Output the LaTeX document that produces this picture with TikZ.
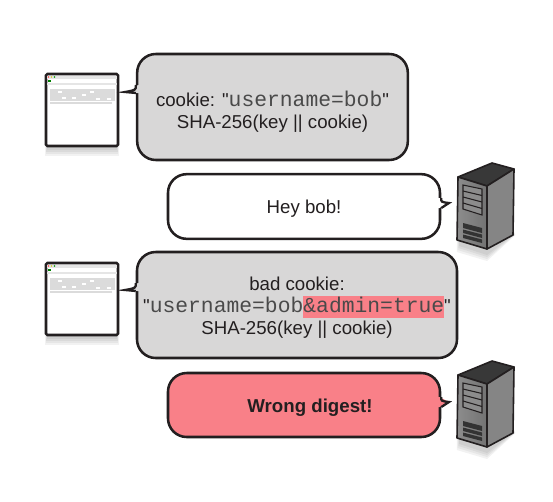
\documentclass[tikz,border=0pt]{standalone}
\usepackage{fontspec}
\setmainfont{Liberation Sans}[Ligatures=TeXOff]
\newfontfamily\codefont{Liberation Mono}
\definecolor{bubblegray}{HTML}{D8D7D7}
\definecolor{wrongred}{HTML}{F98088}
\definecolor{inkdark}{HTML}{231F20}
\definecolor{codegray}{HTML}{4A4A4A}
\newcommand{\code}[1]{{\fontsize{16}{17}\codefont\color{codegray}#1}}
\newcommand{\badpart}[1]{\smash{\fboxsep=0pt\colorbox{wrongred}{\rule[-4.5pt]{0pt}{16.5pt}\code{#1}}}}
\newcommand{\lift}[1]{\rule{0pt}{#1}}
\tikzset{
    bubble/.style={
        draw=inkdark, line width=1.9pt, rounded corners=14pt,
        align=center, text=inkdark, inner sep=0pt,
        font=\fontsize{14}{16.5}\selectfont
    },
    tailline/.style={draw=inkdark, line width=1.7pt, line join=miter},
    pics/browser/.style={code={
        \foreach \s in {8,6,4,2}
            \fill[black,opacity=.05] (-35-\s*.2,30) rectangle (35+\s*.2,38+\s);
        \node[draw=inkdark, line width=1.9pt, fill=white, inner sep=0pt,
            minimum width=54pt, minimum height=54pt, rounded corners=1pt] (-frame) at (0,0) {};
        \fill[black!10] (-35,-34) rectangle (35,-31);
        \fill[red!70] (-33.5,-33) circle (.9);
        \fill[yellow!80!black] (-30.5,-33) circle (.9);
        \fill[green!60!black] (-27.5,-33) circle (.9);
        \fill[green!50!black] (-34,-30) rectangle (-31,-28);
        \fill[black!10] (-35,-27) rectangle (35,-25);
        \fill[black!14] (-32,-21) rectangle (33,-9);
        \fill[black!14] (-32,-8) rectangle (30,-6);
        \foreach \wx/\wy in {-24/-19, -20/-13, -10/-13, 0/-16, 8/-19, 14/-12, 25/-12}
            \fill[white] (\wx,\wy) rectangle ++(3.5,1.5);
    }},
    pics/server/.style={code={
        \foreach \s in {8,6,4,2}
            \fill[black,opacity=.05] (3-\s*.4,70) -- (30,80) -- (56,66) -- (56+\s*.3,72)
                -- (30,90+\s) -- (3-\s*.4,81+\s) -- cycle;
        \draw[inkdark, line width=1.2pt, line join=round, fill=black!78!white]
            (1,14) -- (35,0) -- (57,6) -- (30,23) -- cycle;
        \draw[inkdark, line width=1.2pt, line join=round, fill=black!48!white]
            (30,23) -- (57,6) -- (56,72) -- (30,86) -- cycle;
        \draw[inkdark, line width=1.2pt, line join=round, left color=black!45, right color=black!55]
            (1,14) -- (30,23) -- (30,86) -- (0,77) -- cycle;
        \draw[inkdark, line width=.8pt, fill=black!45]
            (6,22) -- (25,26) -- (25,52) -- (6,46) -- cycle;
        \draw[inkdark, line width=.8pt] (6,28) -- (25,32.5) (6,34) -- (25,39) (6,40) -- (25,45.5);
        \fill[black!80] (6,60) -- (25,65) -- (25,70) -- (6,65) -- cycle;
        \fill[black!80] (6,66.5) -- (25,71.5) -- (25,75) -- (6,70) -- cycle;
        \fill[black!80] (6,71.5) -- (25,76.5) -- (25,80) -- (6,75) -- cycle;
    }},
}
\begin{document}
\begin{tikzpicture}[x=.75pt, y=-.75pt]
    \useasboundingbox (0,0) rectangle (553,501);
    % browsers
    \pic (browserA) at (82,110) {browser};
    \pic (browserB) at (82,299) {browser};
    % servers
    \pic (serverA) at (457,163) {server};
    \pic (serverB) at (457,361) {server};
    % bubbles
    \node[bubble, fill=bubblegray, minimum width=203pt, minimum height=79.5pt] (cookie) at (272.5,107)
        {\lift{19pt}cookie: "\code{username=bob}"\\SHA-256(key || cookie)};
    \node[bubble, fill=white, minimum width=204pt, minimum height=48.5pt] (hey) at (304,206.5)
        {\lift{14pt}Hey bob!};
    \node[bubble, fill=bubblegray, minimum width=240pt, minimum height=79.5pt] (badcookie) at (297,305)
        {\lift{14pt}bad cookie:\\"\code{username=bob}\badpart{\&admin=true}"\\SHA-256(key || cookie)};
    \node[bubble, fill=wrongred, minimum width=204pt, minimum height=48pt] (wrong) at (304,405)
        {\lift{14pt}\hspace*{9pt}\textbf{Wrong digest!}};
    % tails
    \coordinate (tipA) at (125,92);
    \coordinate (tipB) at (449,203);
    \coordinate (tipC) at (125,290);
    \coordinate (tipD) at (449,402);
    \fill[bubblegray] (137.5,85) .. controls (136,90) .. (tipA) -- (137.5,93) -- (139,93) -- (139,85) -- cycle;
    \draw[tailline] (cookie.west |- 0,85) .. controls (136,90) .. (tipA) -- (cookie.west |- 0,93);
    \fill[white] (439.5,198) -- (tipB) -- (439.5,208) -- (438,208) -- (438,198) -- cycle;
    \draw[tailline] (hey.east |- 0,198) .. controls (441,202) .. (tipB) -- (hey.east |- 0,208);
    \fill[bubblegray] (137.5,283) .. controls (136,288) .. (tipC) -- (137.5,291) -- (139,291) -- (139,283) -- cycle;
    \draw[tailline] (badcookie.west |- 0,283) .. controls (136,288) .. (tipC) -- (badcookie.west |- 0,291);
    \fill[wrongred] (439.5,397) -- (tipD) -- (439.5,407) -- (438,407) -- (438,397) -- cycle;
    \draw[tailline] (wrong.east |- 0,397) .. controls (441,401) .. (tipD) -- (wrong.east |- 0,407);
\end{tikzpicture}
\end{document}
